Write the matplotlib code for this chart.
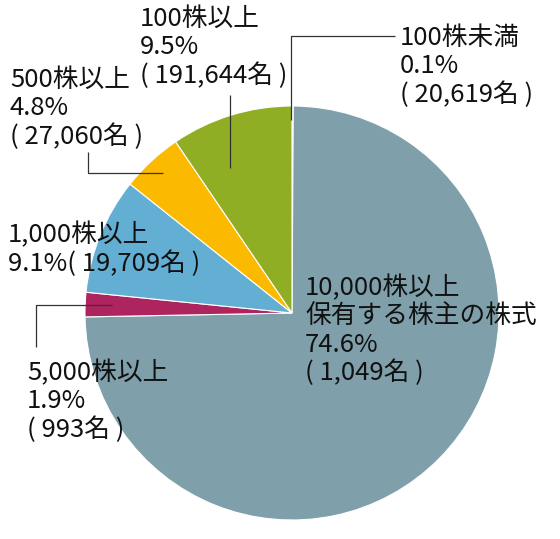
import matplotlib.pyplot as plt

plt.rcParams['font.family'] = ['Noto Sans CJK JP', 'DejaVu Sans']

# shareholder distribution, clockwise from the top
labels = ['100株未満', '10,000株以上\n保有する株主の株式', '5,000株以上', '1,000株以上', '500株以上', '100株以上']
shares = [0.1, 74.6, 1.9, 9.1, 4.8, 9.5]
holders = ['20,619', '1,049', '993', '19,709', '27,060', '191,644']
colors = ['#f3b88a', '#7fa0aa', '#ae245e', '#63aed3', '#fbb900', '#8fae23']

W, H = 560, 539
fig = plt.figure(figsize=(W / 100, H / 100), dpi=100)
ax = fig.add_axes([0, 0, 1, 1])

cx, cy, r = 292, H - 313, 207
ax.pie(shares, colors=colors, startangle=90, counterclock=False,
       center=(cx, cy), radius=r, frame=True,
       wedgeprops=dict(edgecolor='white', linewidth=0.8))
ax.set_xlim(0, W)
ax.set_ylim(0, H)
ax.set_aspect('equal')
ax.axis('off')

fs = 18.5
step = 28.3


def label(x, y, i, one_line=False):
    # y = centre of the first line, measured from the top in pixels
    lines = labels[i].split('\n')
    pct = f'{shares[i]}%'
    cnt = f'( {holders[i]}名 )'
    if one_line:
        lines += [pct + cnt]
    else:
        lines += [pct, cnt]
    for k, line in enumerate(lines):
        ax.text(x, H - (y + k * step), line, fontsize=fs, va='center', ha='left', color='#111111')


def leader(xs, ys):
    ax.plot(xs, [H - v for v in ys], color='#333333', lw=0.9, solid_capstyle='butt')


label(400, 38, 0)
label(305, 288, 1)
label(27, 373, 2)
label(8, 235, 3, one_line=True)
label(10, 80, 4)
label(140, 19, 5)

leader([395, 291, 291], [36, 36, 120])
leader([230, 230], [95, 168])
leader([88, 88, 163], [152, 173, 173])
leader([36, 36, 112], [347, 305, 305])

fig.savefig('out.png', dpi=100)
